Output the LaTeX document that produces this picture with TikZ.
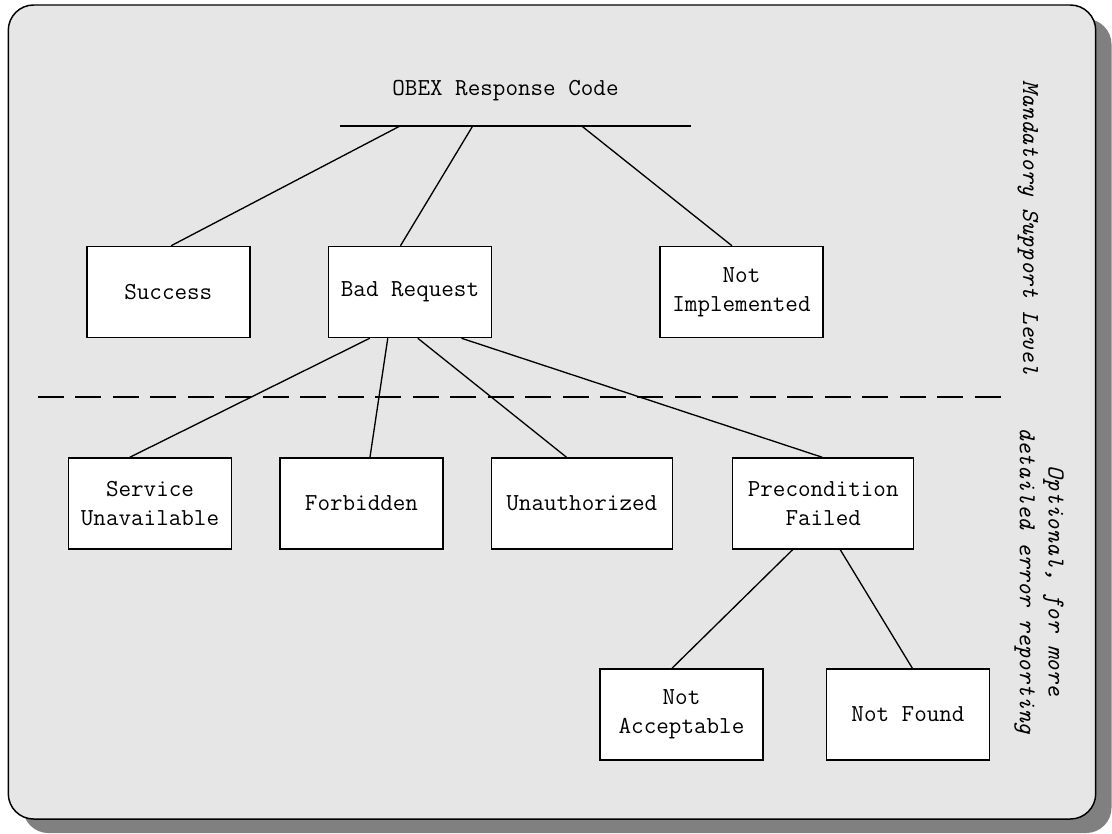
\documentclass[tikz,border=0pt]{standalone}
\usetikzlibrary{calc}
\definecolor{panel}{RGB}{230,230,230}
\definecolor{shadowgray}{RGB}{128,128,128}
\begin{document}
\begin{tikzpicture}[x=0.75pt,y=-0.75pt,
  lbl/.style={font=\fontsize{18.3}{21.5}\selectfont\ttfamily, align=center, inner sep=0pt},
  box/.style={lbl, draw=black, fill=white, line width=1.1pt, minimum width=122.25pt, minimum height=68.25pt},
  widebox/.style={box, minimum width=135.75pt},
  link/.style={draw=black, line width=1pt},
  side/.style={font=\fontsize{18.3}{21.5}\selectfont\ttfamily\itshape, align=center, inner sep=0pt, rotate=-90}]
\useasboundingbox (0,0) rectangle (1112,833);
% shadow and panel
\fill[shadowgray, rounded corners=19pt] (23,19) rectangle (1111.5,833);
\filldraw[fill=panel, draw=black, line width=1.1pt, rounded corners=19pt] (8.3,5) rectangle (1095.7,819);
% title
\node[lbl, anchor=base] (title) at (505.5,95) {OBEX Response Code};
\coordinate (barW) at (340,126);
\coordinate (barE) at (690.7,126);
\draw[link] (barW) -- (barE);
\coordinate (b1) at (400,126);
\coordinate (b2) at (472.7,126);
\coordinate (b3) at (581.7,126);
% boxes
\node[box] (success) at (168.3,292) {Success};
\node[box] (bad) at (410,292) {Bad Request};
\node[box] (notimpl) at (741.5,292) {Not\\Implemented};
\node[box] (service) at (150,503.5) {Service\\Unavailable};
\node[box] (forbidden) at (361.5,503.5) {Forbidden};
\node[widebox] (unauth) at (581.8,503.5) {Unauthorized};
\node[widebox] (precond) at (823.2,503.5) {Precondition\\Failed};
\node[box] (notacc) at (681.5,714.5) {Not\\Acceptable};
\node[box] (notfound) at (908,714.5) {Not Found};
% top connectors
\draw[link] (b1) -- ($(success.north west)+(85,0)$);
\draw[link] (b2) -- ($(bad.north west)+(72.7,0)$);
\draw[link] (b3) -- ($(notimpl.north west)+(72.7,0)$);
% bad request children
\draw[link] ($(bad.south west)+(42,0)$) -- ($(service.north west)+(62,0)$);
\draw[link] ($(bad.south west)+(60,0)$) -- ($(forbidden.north west)+(90.7,0)$);
\draw[link] ($(bad.south west)+(90,0)$) -- ($(unauth.north west)+(76,0)$);
\draw[link] ($(bad.south west)+(133.7,0)$) -- ($(precond.north west)+(90.3,0)$);
% precondition children
\draw[link] ($(precond.south west)+(60.6,0)$) -- ($(notacc.north west)+(72.7,0)$);
\draw[link] ($(precond.south west)+(108.3,0)$) -- ($(notfound.north west)+(86.6,0)$);
% dashed separator
\coordinate (dashW) at (38,397);
\coordinate (dashE) at (1010,397);
\draw[draw=black, line width=1pt, dash pattern=on 19.5pt off 8.6pt] (dashW) -- (dashE);
% side labels
\node[side] (mand) at (1028,228) {Mandatory Support Level};
\node[side] (opt) at (1039,581) {Optional, for more\\detailed error reporting};
\end{tikzpicture}
\end{document}
